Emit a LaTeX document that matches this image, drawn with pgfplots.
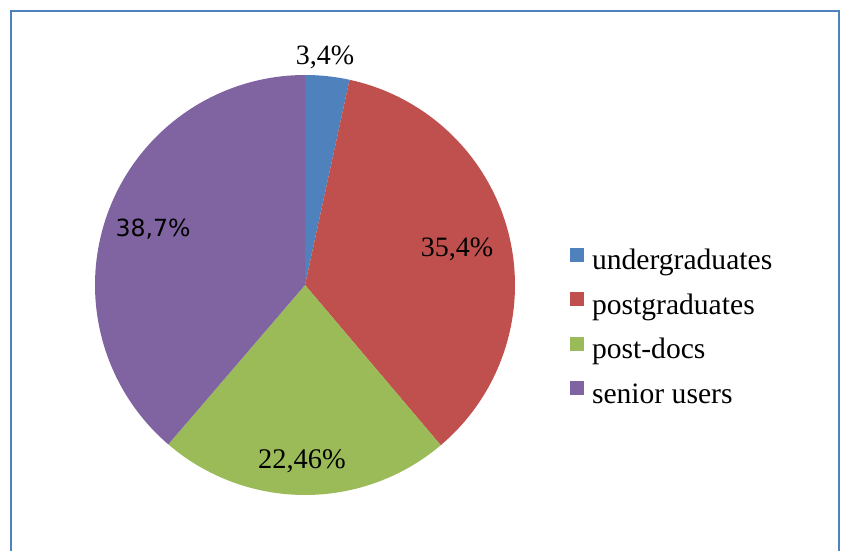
\documentclass[border=0pt]{standalone}
\usepackage{fontspec}
\setmainfont{Liberation Serif}
\newfontfamily\dejavu{DejaVu Sans}
\usepackage{pgfplots}
\usepackage{pgfplotstable}
\pgfplotsset{compat=1.18}
\definecolor{cblue}{HTML}{4F81BD}
\definecolor{cred}{HTML}{C0504D}
\definecolor{cgreen}{HTML}{9BBB59}
\definecolor{cpurple}{HTML}{8064A2}
\definecolor{cframe}{HTML}{4F81BD}
\pgfplotstableread{
name value
undergraduates 3.4
postgraduates 35.4
post-docs 22.46
senior-users 38.7
}\piedata
\begin{document}
\pgfplotstablegetelem{0}{value}\of\piedata\let\vA\pgfplotsretval
\pgfplotstablegetelem{1}{value}\of\piedata\let\vB\pgfplotsretval
\pgfplotstablegetelem{2}{value}\of\piedata\let\vC\pgfplotsretval
\pgfplotstablegetelem{3}{value}\of\piedata\let\vD\pgfplotsretval
\pgfmathsetmacro\total{\vA+\vB+\vC+\vD}%
\pgfmathsetmacro\aA{90}%
\pgfmathsetmacro\aB{\aA-360*\vA/\total}%
\pgfmathsetmacro\aC{\aB-360*\vB/\total}%
\pgfmathsetmacro\aD{\aC-360*\vC/\total}%
\pgfmathsetmacro\aE{\aD-360*\vD/\total}%
\begin{tikzpicture}
\begin{axis}[
  scale only axis, width=423pt, height=275.5pt,
  xmin=0, xmax=846, ymin=0, ymax=551,
  hide axis, clip=true,
  legend image code/.code={\path[#1,draw=none] (0pt,0.5pt) rectangle (7pt,7.5pt);},
  legend cell align=left,
  legend style={at={(axis cs:570,303)}, anchor=north west, draw=none, fill=none,
    inner sep=0pt, outer sep=0pt, column sep=4pt, row sep=7.2pt,
    font=\fontsize{14.8}{17}\selectfont,
    nodes={inner sep=0pt, text height=11pt, text depth=4pt}},
]
\path (axis cs:0,0) rectangle (axis cs:846,551);
\addplot[fill=cblue, draw=none, domain=\aB:\aA, samples=20, variable=\t]
  ({305+210*cos(\t)},{266+210*sin(\t)}) -- (axis cs:305,266) -- cycle;
\addplot[fill=cred, draw=none, domain=\aC:\aB, samples=80, variable=\t]
  ({305+210*cos(\t)},{266+210*sin(\t)}) -- (axis cs:305,266) -- cycle;
\addplot[fill=cgreen, draw=none, domain=\aD:\aC, samples=60, variable=\t]
  ({305+210*cos(\t)},{266+210*sin(\t)}) -- (axis cs:305,266) -- cycle;
\addplot[fill=cpurple, draw=none, domain=\aE:\aD, samples=90, variable=\t]
  ({305+210*cos(\t)},{266+210*sin(\t)}) -- (axis cs:305,266) -- cycle;
\legend{undergraduates,postgraduates,post-docs,senior users}
\node[font=\fontsize{14}{16}\selectfont] at (axis cs:325,494) {3,4\%};
\node[font=\fontsize{14}{16}\selectfont] at (axis cs:457,302) {35,4\%};
\node[font=\dejavu\fontsize{11.8}{14}\selectfont] at (axis cs:153,322) {38,7\%};
\node[font=\fontsize{14.2}{16}\selectfont] at (axis cs:302,90) {22,46\%};
\draw[cframe, line width=1.3pt] (axis cs:11,-20) -- (axis cs:11,540) -- (axis cs:839,540) -- (axis cs:839,-20);
\end{axis}
\end{tikzpicture}
\end{document}
